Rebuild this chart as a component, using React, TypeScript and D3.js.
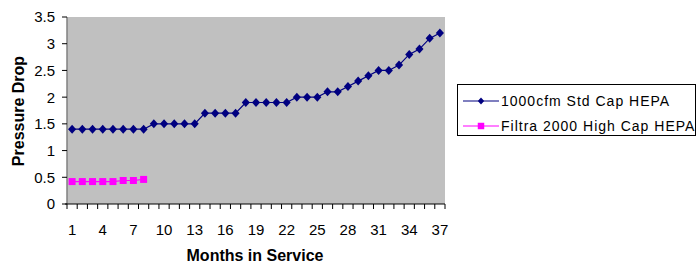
import React, { useEffect, useRef } from "react";
import * as d3 from "d3";

// months on the category axis
const months = d3.range(1, 38);
const stdCapValues = [
  1.4, 1.4, 1.4, 1.4, 1.4, 1.4, 1.4, 1.4,
  1.5, 1.5, 1.5, 1.5, 1.5,
  1.7, 1.7, 1.7, 1.7,
  1.9, 1.9, 1.9, 1.9, 1.9,
  2.0, 2.0, 2.0, 2.1, 2.1, 2.2, 2.3, 2.4, 2.5, 2.5, 2.6, 2.8, 2.9, 3.1, 3.2,
];
const filtraValues = [0.42, 0.42, 0.42, 0.42, 0.42, 0.44, 0.44, 0.46];
const yTicks = [0, 0.5, 1, 1.5, 2, 2.5, 3, 3.5];
const seriesNames = ["1000cfm Std Cap HEPA", "Filtra 2000 High Cap HEPA"];

// excel-style diamond, a bit taller than wide
const excelDiamond = {
  draw(ctx: any, size: number) {
    const h = Math.sqrt(size) / 2;
    const w = h * 0.9;
    ctx.moveTo(0, -h);
    ctx.lineTo(w, 0);
    ctx.lineTo(0, h);
    ctx.lineTo(-w, 0);
    ctx.closePath();
  },
};

export default function App() {
  const ref = useRef<SVGSVGElement>(null);

  useEffect(() => {
    const svg = d3.select(ref.current);
    svg.selectAll("*").remove();
    const font = "Liberation Sans, Arial, sans-serif";

    const left = 67, right = 445, top = 17, bottom = 204;

    const x = d3.scaleBand<number>().domain(months).range([left, right]).padding(0);
    const y = d3.scaleLinear().domain([0, 3.5]).range([bottom, top]);
    const cx = (m: number) => (x(m) as number) + x.bandwidth() / 2;

    // plot area
    svg.append("rect")
      .attr("x", left).attr("y", top)
      .attr("width", right - left).attr("height", bottom - top)
      .attr("fill", "#c0c0c0");

    // y axis
    const yAxis = svg.append("g");
    yAxis.append("line")
      .attr("x1", left).attr("x2", left)
      .attr("y1", top).attr("y2", bottom)
      .attr("stroke", "#808080").attr("stroke-width", 1.5);
    yAxis.selectAll(".ytick")
      .data(yTicks)
      .join("line")
      .attr("x1", left - 5).attr("x2", left)
      .attr("y1", (d) => y(d)).attr("y2", (d) => y(d))
      .attr("stroke", "#000");
    yAxis.selectAll("text")
      .data(yTicks)
      .join("text")
      .attr("x", 55)
      .attr("y", (d) => y(d))
      .attr("dy", "0.36em")
      .attr("text-anchor", "end")
      .style("font-family", font)
      .style("font-size", "15px")
      .text((d) => String(d));

    // x axis
    const xAxis = svg.append("g");
    xAxis.append("line")
      .attr("x1", left - 2).attr("x2", right)
      .attr("y1", bottom).attr("y2", bottom)
      .attr("stroke", "#000");
    xAxis.selectAll(".xtick")
      .data(d3.range(0, months.length + 1))
      .join("line")
      .attr("x1", (i) => left + i * x.bandwidth())
      .attr("x2", (i) => left + i * x.bandwidth())
      .attr("y1", bottom).attr("y2", bottom + 5)
      .attr("stroke", "#000");
    xAxis.selectAll("text")
      .data(months.filter((m) => (m - 1) % 3 === 0))
      .join("text")
      .attr("x", (d) => cx(d))
      .attr("y", 235)
      .attr("text-anchor", "middle")
      .style("font-family", font)
      .style("font-size", "15px")
      .text((d) => String(d));

    // axis titles
    svg.append("text")
      .attr("transform", `translate(24,111) rotate(-90)`)
      .attr("text-anchor", "middle")
      .style("font-family", font)
      .style("font-size", "16px")
      .style("font-weight", "bold")
      .text("Pressure Drop");
    svg.append("text")
      .attr("x", 255).attr("y", 261)
      .attr("text-anchor", "middle")
      .style("font-family", font)
      .style("font-size", "16px")
      .style("font-weight", "bold")
      .text("Months in Service");

    // series lines
    const line = d3.line<number>()
      .x((_, i) => cx(months[i]))
      .y((d) => y(d));
    svg.append("path")
      .attr("d", line(stdCapValues))
      .attr("fill", "none")
      .attr("stroke", "#000080")
      .attr("stroke-width", 1.2);
    svg.append("path")
      .attr("d", line(filtraValues))
      .attr("fill", "none")
      .attr("stroke", "#ff00ff")
      .attr("stroke-width", 1.2);

    const diamond = d3.symbol(excelDiamond as any, 81);
    const square = d3.symbol(d3.symbolSquare, 49);

    svg.append("g").selectAll("path")
      .data(stdCapValues)
      .join("path")
      .attr("transform", (d, i) => `translate(${cx(months[i])},${y(d)})`)
      .attr("d", diamond())
      .attr("fill", "#000080");
    svg.append("g").selectAll("path")
      .data(filtraValues)
      .join("path")
      .attr("transform", (d, i) => `translate(${cx(months[i])},${y(d)})`)
      .attr("d", square())
      .attr("fill", "#ff00ff");

    // legend
    const legend = svg.append("g");
    legend.append("rect")
      .attr("x", 457.5).attr("y", 84.5)
      .attr("width", 238).attr("height", 51)
      .attr("fill", "#fff")
      .attr("stroke", "#000");
    const colors = ["#000080", "#ff00ff"];
    const legendDiamond = d3.symbol(excelDiamond as any, 49);
    const legendSquare = d3.symbol(d3.symbolSquare, 42);
    const shapes = [legendDiamond, legendSquare];
    seriesNames.forEach((name, i) => {
      const ly = 101 + i * 25;
      legend.append("line")
        .attr("x1", 463).attr("x2", 499)
        .attr("y1", ly).attr("y2", ly)
        .attr("stroke", colors[i]).attr("stroke-width", 1.2);
      legend.append("path")
        .attr("transform", `translate(481,${ly})`)
        .attr("d", shapes[i]())
        .attr("fill", colors[i]);
      legend.append("text")
        .attr("x", 501).attr("y", ly)
        .attr("dy", "0.36em")
        .style("font-family", font)
        .style("font-size", "14px")
        .style("letter-spacing", "1px")
        .text(name);
    });
  }, []);

  return (
    <svg
      ref={ref}
      width={698}
      height={263}
      style={{ position: "absolute", left: 0, top: 0, background: "#fff" }}
    />
  );
}
